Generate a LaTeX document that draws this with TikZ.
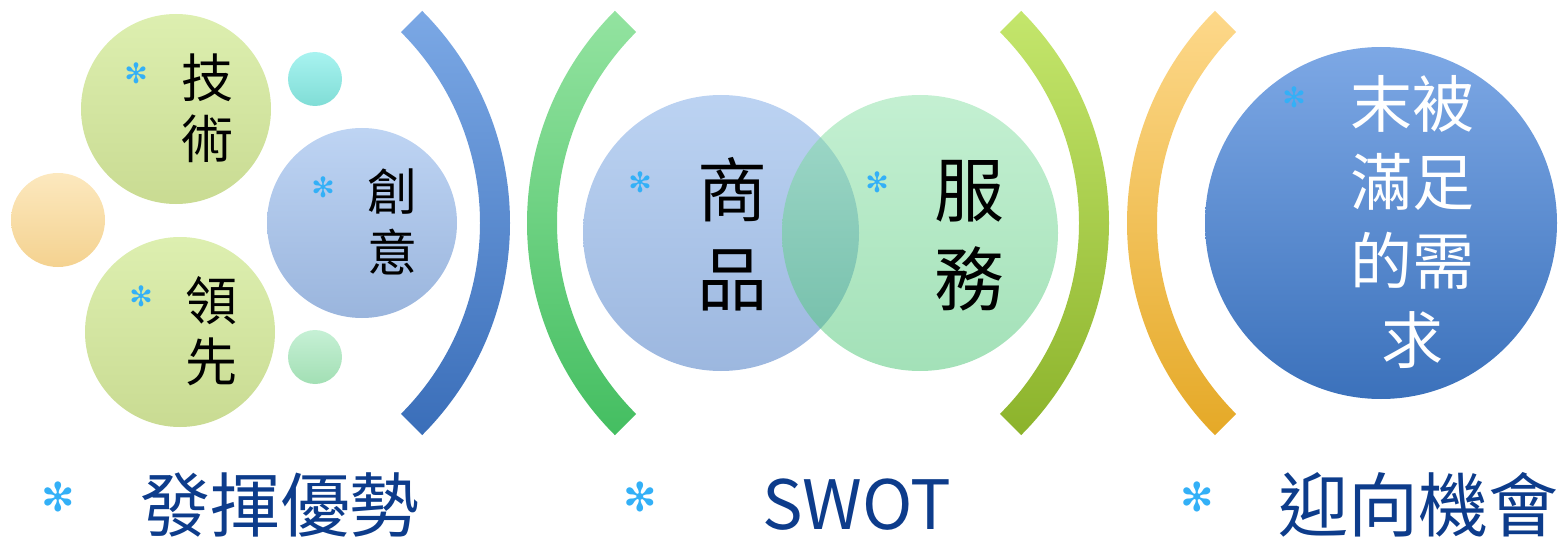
\documentclass[tikz,border=0pt]{standalone}
\usepackage{fontspec}
\setmainfont{Noto Sans CJK TC}
\newfontfamily\symfont{DejaVu Sans}

\definecolor{techtop}{HTML}{DDEFB0}
\definecolor{techbot}{HTML}{C9DB92}
\definecolor{orangetop}{HTML}{FCE8BE}
\definecolor{orangebot}{HTML}{F4D290}
\definecolor{cyantop}{HTML}{A8F3F0}
\definecolor{cyanbot}{HTML}{80DDD6}
\definecolor{minttop}{HTML}{C6F0D5}
\definecolor{mintbot}{HTML}{A2DFB4}
\definecolor{ideatop}{HTML}{BED4F3}
\definecolor{ideabot}{HTML}{9AB5DD}
\definecolor{goodstop}{HTML}{BCD3F2}
\definecolor{goodsbot}{HTML}{9CB7DF}
\definecolor{servtop}{HTML}{89E1A5}
\definecolor{servbot}{HTML}{47C371}
\definecolor{needtop}{HTML}{7DA8E5}
\definecolor{needbot}{HTML}{3B71BB}
\definecolor{bluetop}{HTML}{7BA8E5}
\definecolor{bluebot}{HTML}{3A6EB9}
\definecolor{greentop}{HTML}{93E3A0}
\definecolor{greenbot}{HTML}{44BE61}
\definecolor{limetop}{HTML}{C4E66C}
\definecolor{limebot}{HTML}{8CB32B}
\definecolor{goldtop}{HTML}{FDD88A}
\definecolor{goldbot}{HTML}{E5A927}
\definecolor{navy}{HTML}{0D3C8B}
\definecolor{starblue}{HTML}{33B0F7}

\begin{document}
\begin{tikzpicture}[x=0.5pt, y=0.5pt,
    bubble/.style={circle, inner sep=0pt, minimum size=#1},
    word/.style={inner sep=0pt, align=center},
    star/.style={inner sep=0pt, text=starblue, font=\symfont\fontsize{14}{14}\selectfont},
    bigstar/.style={inner sep=0pt, text=starblue, font=\symfont\fontsize{20}{20}\selectfont},
    title/.style={inner sep=0pt, text=navy, font=\fontsize{35}{35}\selectfont}]

    \useasboundingbox (0,0) rectangle (1559,-540);

    % brackets
    \shade[top color=bluetop, bottom color=bluebot]
      ([shift={(45:300)}]210,-223) arc[start angle=45, end angle=-45, radius=300]
      -- ([shift={(-45:270)}]210,-223) arc[start angle=-45, end angle=45, radius=270] -- cycle;
    \shade[top color=greentop, bottom color=greenbot]
      ([shift={(135:300)}]827,-223) arc[start angle=135, end angle=225, radius=300]
      -- ([shift={(225:270)}]827,-223) arc[start angle=225, end angle=135, radius=270] -- cycle;
    \shade[top color=limetop, bottom color=limebot]
      ([shift={(45:300)}]809,-223) arc[start angle=45, end angle=-45, radius=300]
      -- ([shift={(-45:270)}]809,-223) arc[start angle=-45, end angle=45, radius=270] -- cycle;
    \shade[top color=goldtop, bottom color=goldbot]
      ([shift={(135:300)}]1427,-223) arc[start angle=135, end angle=225, radius=300]
      -- ([shift={(225:270)}]1427,-223) arc[start angle=225, end angle=135, radius=270] -- cycle;

    % left group
    \node[bubble=95pt, top color=techtop, bottom color=techbot] at (176,-109) (tech) {};
    \node[bubble=95pt, top color=techtop, bottom color=techbot] at (180,-332) (lead) {};
    \node[bubble=95pt, top color=ideatop, bottom color=ideabot] at (362,-223) (idea) {};
    \node[bubble=47pt, top color=orangetop, bottom color=orangebot] at (58,-220) (o1) {};
    \node[bubble=27pt, top color=cyantop, bottom color=cyanbot] at (315,-79) (c1) {};
    \node[bubble=27pt, top color=minttop, bottom color=mintbot] at (315,-357) (m1) {};

    \node[star] at (136,-73) (s1) {✻};
    \node[word, font=\fontsize{26}{30.5}\selectfont] at (207,-108) (techtxt) {技\\術};
    \node[star] at (141,-296) (s2) {✻};
    \node[word, font=\fontsize{26}{30.5}\selectfont] at (211,-331) (leadtxt) {領\\先};
    \node[star] at (323,-187) (s3) {✻};
    \node[word, font=\fontsize{25}{30.5}\selectfont] at (392,-222) (ideatxt) {創\\意};

    % venn
    \node[bubble=138pt, top color=goodstop, bottom color=goodsbot] at (721,-233) (goods) {};
    \node[bubble=138pt, top color=servtop, bottom color=servbot, fill opacity=0.5] at (920,-233) (serv) {};
    \node[star] at (640,-182) (s4) {✻};
    \node[word, font=\fontsize{35}{44.5}\selectfont] at (732,-234) (goodstxt) {商\\品};
    \node[star] at (877,-182) (s5) {✻};
    \node[word, font=\fontsize{35}{44.5}\selectfont] at (969,-236) (servtxt) {服\\務};

    % right circle
    \node[bubble=176pt, top color=needtop, bottom color=needbot] at (1381,-223) (need) {};
    \node[star] at (1294,-97) (s6) {✻};
    \node[word, text=white, font=\fontsize{31}{39.5}\selectfont] at (1412,-222) (needtxt) {末被\\滿足\\的需\\求};

    % bottom titles
    \node[bigstar] at (58,-497) (b1) {✻};
    \node[title] at (280,-505) (t1) {發揮優勢};
    \node[bigstar] at (640,-497) (b2) {✻};
    \node[title, font=\fontsize{34}{34}\selectfont] at (857,-505) (t2) {SWOT};
    \node[bigstar] at (1197,-497) (b3) {✻};
    \node[title] at (1418,-505) (t3) {迎向機會};

  \end{tikzpicture}
\end{document}
